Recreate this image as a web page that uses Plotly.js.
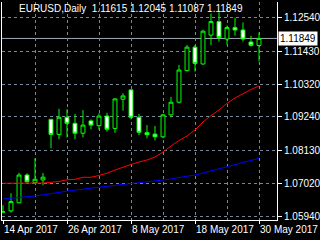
<!DOCTYPE html>
<html>
<head>
<meta charset="utf-8">
<script src="https://cdn.plot.ly/plotly-3.0.1.min.js"></script>
<style>html,body{margin:0;padding:0;background:#000;}#chart{width:320px;height:240px;}</style>
</head>
<body>
<div id="chart"></div>
<script>
// ---- data ----
var dates = ['14 Apr 2017','17 Apr 2017','18 Apr 2017','19 Apr 2017','20 Apr 2017','21 Apr 2017',
  '24 Apr 2017','25 Apr 2017','26 Apr 2017','27 Apr 2017','28 Apr 2017',
  '1 May 2017','2 May 2017','3 May 2017','4 May 2017','5 May 2017',
  '8 May 2017','9 May 2017','10 May 2017','11 May 2017','12 May 2017',
  '15 May 2017','16 May 2017','17 May 2017','18 May 2017','19 May 2017',
  '22 May 2017','23 May 2017','24 May 2017','25 May 2017','26 May 2017',
  '29 May 2017','30 May 2017'];
var openP  = [1.0609,1.0612,1.0639,1.0731,1.0706,1.0715,1.0916,1.0866,1.0923,1.0903,1.0870,
  1.0911,1.0895,1.0927,1.0886,1.0983,1.1014,1.0923,1.0872,1.0867,1.0858,
  1.0931,1.0973,1.1078,1.1156,1.1100,1.1196,1.1241,1.1183,1.1221,1.1213,1.1173,1.11615];
var highP  = [1.0631,1.0670,1.0739,1.0737,1.0787,1.0738,1.0918,1.0951,1.0950,1.0934,1.0947,
  1.0916,1.0936,1.0938,1.0986,1.1003,1.1016,1.0934,1.0897,1.0894,1.0934,
  1.0991,1.1097,1.1163,1.1163,1.1214,1.1268,1.1272,1.1228,1.1254,1.1238,1.1194,1.12045];
var lowP   = [1.0606,1.0606,1.0637,1.0704,1.0704,1.0697,1.0820,1.0850,1.0856,1.0850,1.0856,
  1.0883,1.0881,1.0875,1.0871,1.0945,1.0916,1.0864,1.0853,1.0846,1.0853,
  1.0923,1.0969,1.1075,1.1075,1.1098,1.1163,1.1174,1.1164,1.1194,1.1174,1.1158,1.11087];
var closeP = [1.0608,1.0643,1.0731,1.0709,1.0717,1.0724,1.0866,1.0923,1.0903,1.0870,1.0897,
  1.0897,1.0927,1.0883,1.0984,1.0994,1.0923,1.0873,1.0865,1.0858,1.0931,
  1.0973,1.1080,1.1156,1.1102,1.1209,1.1241,1.1188,1.1221,1.1213,1.1183,1.1162,1.11849];
var maRed  = [1.07036,1.07036,1.07036,1.07036,1.07036,1.07046,1.07070,1.07096,1.07153,1.07169,1.07236,
  1.07236,1.07296,1.07369,1.07478,1.07578,1.07661,1.07744,1.07810,1.07910,1.08076,
  1.08276,1.08458,1.08608,1.08807,1.09073,1.09289,1.09472,1.09694,1.09870,1.10026,1.10153,1.10269];
var maBlue = [1.06515,1.06548,1.06571,1.06591,1.06614,1.06648,1.06681,1.06731,1.06781,1.06814,1.06847,
  1.06887,1.06920,1.06947,1.06980,1.07006,1.07030,1.07053,1.07080,1.07103,1.07129,
  1.07179,1.07229,1.07269,1.07312,1.07379,1.07445,1.07511,1.07588,1.07661,1.07727,1.07794,1.07867];
var yTickVals = [1.0594,1.0702,1.0813,1.0924,1.1032,1.1143,1.1254];
var yTickText = ['1.05940','1.07020','1.08130','1.09240','1.10320','1.11430','1.12540'];
var xLabelIdx = [0,8,16,24,32];
var xGridIdx  = [4,12,20,28];
var symbol = 'EURUSD,Daily';

// ---- build ----
var idx = dates.map(function(d,i){return i;});
var last = closeP.length - 1;
var fmt = function(v){return v.toFixed(5);};
var grid = '#778899';
var fontF = 'Liberation Sans, Arial, sans-serif';

var traces = [
  {type:'scatter', mode:'lines', x:idx, y:maBlue, line:{color:'#0000ff', width:1}, hoverinfo:'skip'},
  {type:'scatter', mode:'lines', x:idx, y:maRed, line:{color:'#ff0000', width:1}, hoverinfo:'skip'},
  {type:'candlestick', x:idx, open:openP, high:highP, low:lowP, close:closeP,
   whiskerwidth:0,
   increasing:{line:{color:'#00ff00', width:1}, fillcolor:'#000000'},
   decreasing:{line:{color:'#00ff00', width:1}, fillcolor:'#ffffff'},
   hoverinfo:'skip'}
];

var layout = {
  width:320, height:240,
  paper_bgcolor:'#000', plot_bgcolor:'#000',
  margin:{l:2, r:43, t:2, b:20, pad:0},
  showlegend:false,
  boxgap:0.3,
  title:{text: symbol + '  ' + fmt(openP[last]) + ' ' + fmt(highP[last]) + ' ' + fmt(lowP[last]) + ' ' + fmt(closeP[last]),
    xref:'container', yref:'container', x:19/320, xanchor:'left', y:1-5/240, yanchor:'top',
    font:{family:fontF, size:10, color:'#ffffff'}},
  xaxis:{
    range:[-0.125, 34.25], tickmode:'array', tickvals:xLabelIdx,
    ticktext:xLabelIdx.map(function(i){return dates[i];}),
    ticks:'outside', ticklen:3, tickcolor:'#ffffff', tickwidth:1,
    tickangle:0, automargin:false,
    ticklabelposition:'outside right',
    tickfont:{family:fontF, size:10, color:'#ffffff'},
    showline:true, linecolor:'#ffffff', linewidth:1,
    showgrid:true, gridcolor:grid, gridwidth:1, griddash:'3px,3px',
    minor:{tickmode:'array', tickvals:xGridIdx, showgrid:true, gridcolor:grid, gridwidth:1, griddash:'3px,3px', ticks:''},
    zeroline:false, rangeslider:{visible:false}, fixedrange:true
  },
  yaxis:{
    side:'right', range:[1.05817, 1.13060], tickmode:'array', tickvals:yTickVals, ticktext:yTickText,
    ticks:'outside', ticklen:4, tickcolor:'#ffffff', tickwidth:1,
    tickfont:{family:fontF, size:10, color:'#ffffff'},
    showline:true, mirror:true, linecolor:'#ffffff', linewidth:1,
    showgrid:true, gridcolor:grid, gridwidth:1, griddash:'3px,3px',
    zeroline:false, fixedrange:true
  },
  shapes:[
    {type:'line', xref:'paper', x0:0, x1:1, yref:'y', y0:closeP[last], y1:closeP[last],
     line:{color:'#a0a8b4', width:1}, layer:'below'}
  ],
  annotations:[
    {xref:'paper', yref:'y', x:1, y:closeP[last], xanchor:'left', yanchor:'middle', xshift:1,
     text:fmt(closeP[last]), showarrow:false, bgcolor:'#ffffff', borderpad:1,
     font:{family:fontF, size:10, color:'#000000'}},
    {xref:'container', yref:'container', x:9/320, y:1-10/240, xanchor:'center', yanchor:'middle',
     text:'\u25BC', showarrow:false, font:{family:'DejaVu Sans', size:7, color:'#ffffff'}}
  ]
};

Plotly.newPlot('chart', traces, layout, {staticPlot:true, displayModeBar:false});
</script>
</body>
</html>
